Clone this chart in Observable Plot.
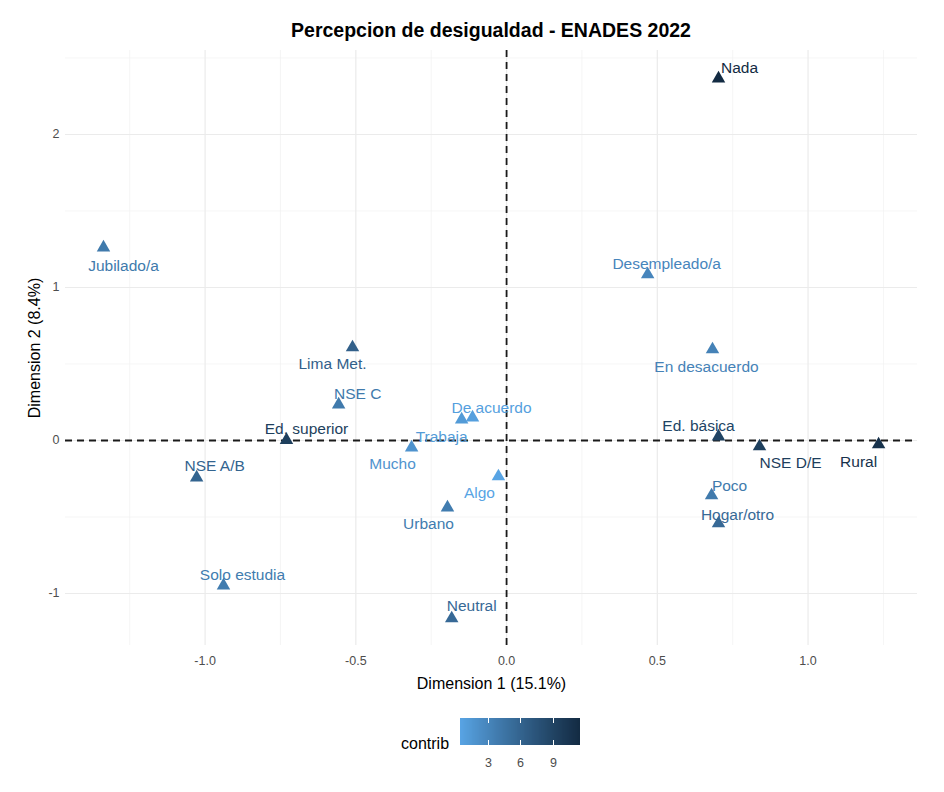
<!DOCTYPE html>
<html>
<head>
<meta charset="utf-8">
<script src="https://cdn.jsdelivr.net/npm/d3@7"></script>
<script src="https://cdn.jsdelivr.net/npm/@observablehq/plot@0.6"></script>
<style>
  html, body { margin: 0; padding: 0; background: #fff; }
  #wrap { position: relative; width: 944px; height: 792px; font-family: "Liberation Sans", Arial, sans-serif; }
  #title { position: absolute; left: 65px; width: 852px; top: 19px; text-align: center; font-weight: bold; font-size: 19.5px; color: #000; }
  #chart { position: absolute; left: 0; top: 0; }
  #legendTitle { position: absolute; left: 401px; top: 735px; font-size: 16px; color: #000; }
  #legend { position: absolute; left: 460px; top: 718px; }
  #chart g[aria-label="x-axis label"], #chart g[aria-label="y-axis label"] { font-size: 16px; fill: #000; }
  #chart g[aria-label="x-axis tick label"], #chart g[aria-label="y-axis tick label"] { font-size: 12.5px; fill: #4d4d4d; }
  #legend svg .tick line { stroke: #fff; stroke-width: 1; stroke-dasharray: 5,17,5,100; }
  #legend svg .tick text { fill: #4d4d4d; font-size: 12.5px; }
</style>
</head>
<body>
<div id="wrap">
  <div id="chart"></div>
  <div id="title">Percepcion de desigualdad - ENADES 2022</div>
  <div id="legendTitle">contrib</div>
  <div id="legend"></div>
</div>
<script>
// ---- data ----
const categories = ["Nada","Jubilado/a","Desempleado/a","En desacuerdo","Lima Met.","NSE C","Trabaja","De acuerdo","Ed. superior","Mucho","Algo","Urbano","NSE A/B","Solo estudia","Neutral","Ed. básica","NSE D/E","Rural","Poco","Hogar/otro"];
const dim1 = [0.703,-1.337,0.468,0.683,-0.511,-0.557,-0.149,-0.113,-0.730,-0.315,-0.027,-0.196,-1.028,-0.939,-0.182,0.703,0.839,1.234,0.680,0.703];
const dim2 = [2.366,1.261,1.085,0.595,0.608,0.235,0.137,0.150,0.003,-0.046,-0.235,-0.438,-0.242,-0.948,-1.163,0.026,-0.039,-0.026,-0.359,-0.542];
const contrib = [11.5,4.0,3.0,3.3,6.3,4.0,1.2,0.8,9.5,1.8,0.41,3.8,6.0,3.8,5.5,9.0,9.5,10.8,4.0,5.5];
const xTicks = [-1, -0.5, 0, 0.5, 1];
const xMinor = [-1.25, -0.75, -0.25, 0.25, 0.75, 1.25];
const yTicks = [-1, 0, 1, 2];
const yMinor = [-0.5, 0.5, 1.5, 2.5];
const legendTicks = [3, 6, 9];

// label placement (repel-style offsets in px, layout only)
const labelOffset = {
  "Nada": [21, -10], "Jubilado/a": [20, 18], "Desempleado/a": [19, -10], "En desacuerdo": [-6, 18],
  "Lima Met.": [-20, 17], "NSE C": [19, -11], "Trabaja": [-20, 18], "De acuerdo": [19, -10],
  "Ed. superior": [20, -11], "Mucho": [-19, 17], "Algo": [-19, 17], "Urbano": [-19, 17],
  "NSE A/B": [18, -11], "Solo estudia": [19, -10], "Neutral": [20, -12], "Ed. básica": [-20, -10],
  "NSE D/E": [31, 17], "Rural": [-20, 18], "Poco": [18, -9], "Hogar/otro": [19, -8]
};

const data = categories.map((c, i) => ({name: c, x: dim1[i], y: dim2[i], contrib: contrib[i]}));

const colorScale = {type: "linear", domain: [0.41, 11.5], range: ["#58A4E4", "#132B43"], interpolate: "lab"};

const labelMarks = data.map(d => Plot.text([d], {
  x: "x", y: "y", text: "name", fill: "contrib",
  dx: labelOffset[d.name][0], dy: labelOffset[d.name][1],
  fontSize: 15.5
}));

const chart = Plot.plot({
  width: 944,
  height: 700,
  marginLeft: 65,
  marginRight: 27,
  marginTop: 50,
  marginBottom: 55,
  style: {fontFamily: "'Liberation Sans', Arial, sans-serif", background: "transparent"},
  x: {domain: [-1.463, 1.363]},
  y: {domain: [-1.340, 2.549]},
  color: colorScale,
  marks: [
    Plot.ruleX(xMinor, {stroke: "#f0f0f0", strokeWidth: 0.7}),
    Plot.ruleY(yMinor, {stroke: "#f0f0f0", strokeWidth: 0.7}),
    Plot.ruleX(xTicks, {stroke: "#ebebeb", strokeWidth: 1.2}),
    Plot.ruleY(yTicks, {stroke: "#ebebeb", strokeWidth: 1.2}),
    Plot.axisX({ticks: xTicks, tickSize: 0, tickPadding: 11, tickFormat: d => d.toFixed(1),
      label: "Dimension 1 (15.1%)", labelAnchor: "center", labelArrow: "none", labelOffset: 43}),
    Plot.axisY({ticks: yTicks, tickSize: 0, tickPadding: 6, tickFormat: d => String(d),
      label: "Dimension 2 (8.4%)", labelAnchor: "center", labelArrow: "none", labelOffset: 37}),
    Plot.ruleX([0], {stroke: "#1a1a1a", strokeWidth: 1.8, strokeDasharray: "7,5"}),
    Plot.ruleY([0], {stroke: "#1a1a1a", strokeWidth: 1.8, strokeDasharray: "7,5"}),
    Plot.dot(data, {x: "x", y: "y", symbol: "triangle", r: 5, fill: "contrib", stroke: "none"}),
    ...labelMarks
  ]
});
document.getElementById("chart").append(chart);

const legend = Plot.legend({
  color: colorScale,
  width: 120,
  height: 27 + 26,
  marginTop: 0,
  marginBottom: 26,
  marginLeft: 0,
  marginRight: 0,
  tickSize: 10,
  ticks: legendTicks,
  tickFormat: d => String(d),
  style: {fontFamily: "'Liberation Sans', Arial, sans-serif", overflow: "visible"}
});
document.getElementById("legend").append(legend);
</script>
</body>
</html>
